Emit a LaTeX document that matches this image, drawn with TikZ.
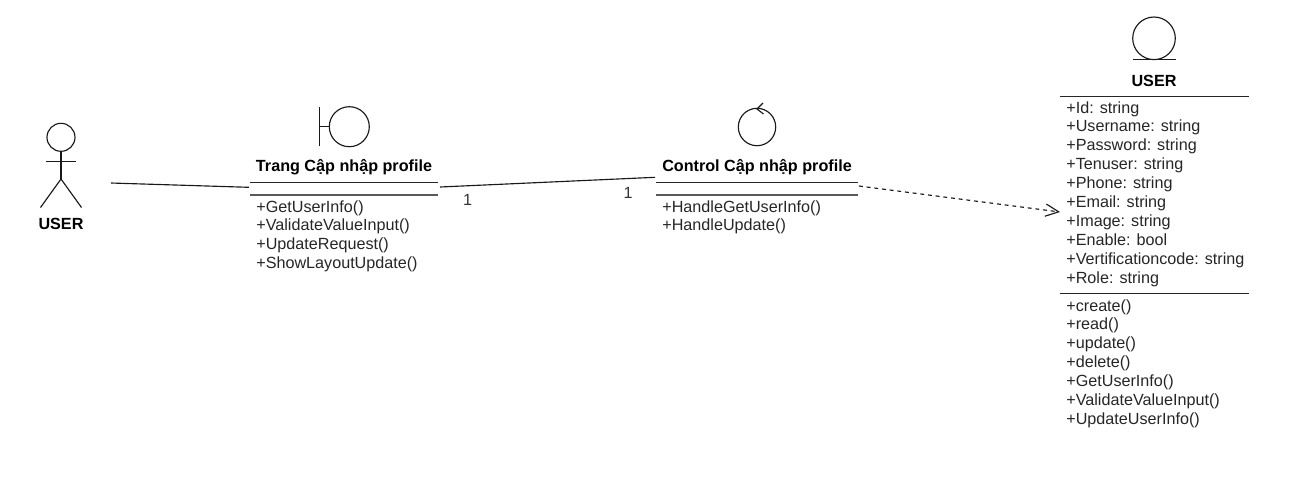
\documentclass[tikz,border=0pt]{standalone}
\usepackage{fontspec}
\setmainfont{Liberation Sans}
\usetikzlibrary{arrows.meta}
\tikzset{
    umlline/.style={draw=black!90, line width=0.65pt},
    rule/.style={draw=black!85, line width=0.65pt},
    softrule/.style={draw=black!65, line width=0.9pt},
    title/.style={font=\fontsize{9.2}{10.75}\selectfont\bfseries, inner sep=0pt},
    members/.style={font=\fontsize{9.2}{10.75}\selectfont, anchor=north west, align=left, inner sep=0pt, text=black!85},
    mult/.style={font=\fontsize{9.2}{10.75}\selectfont, inner sep=0pt, text=black!80},
}
\begin{document}
\begin{tikzpicture}[x=0.02cm, y=-0.02cm]
    \useasboundingbox (0, 0) rectangle (1297, 485);

    % Actor
    \draw[umlline] (61, 137.3) circle (14);
    \draw[umlline] (61, 151.3) -- (61, 179);
    \draw[umlline] (46, 161.7) -- (76, 161.7);
    \draw[umlline] (40.5, 207.5) -- (61, 179) -- (81.5, 207.5);
    \node[title] (actorname) at (61, 223.5) {USER};

    % Boundary
    \draw[umlline] (319.7, 107) -- (319.7, 146);
    \draw[umlline] (319.7, 126.7) -- (329.3, 126.7);
    \draw[umlline] (349.3, 126.7) circle (20);
    \node[title] (pagename) at (344, 167.5) {Trang Cập nhập profile};
    \draw[rule] (250, 182.5) -- (438, 182.5);
    \draw[softrule] (250, 195) -- (438, 195);
    \node[members] (pagemembers) at (256, 200) {+GetUserInfo()\\+ValidateValueInput()\\+UpdateRequest()\\+ShowLayoutUpdate()};

    % Control
    \draw[umlline] (757, 127) circle (18.7);
    \draw[umlline] (763, 103) -- (757, 109) -- (763.5, 114);
    \node[title] (ctrlname) at (757, 167.5) {Control Cập nhập profile};
    \draw[rule] (656, 182.5) -- (858, 182.5);
    \draw[softrule] (656, 195) -- (858, 195);
    \node[members] (ctrlmembers) at (662, 200) {+HandleGetUserInfo()\\+HandleUpdate()};

    % Entity
    \draw[umlline] (1154, 38.3) circle (21.3);
    \draw[umlline] (1133, 59.7) -- (1176, 59.7);
    \node[title] (entityname) at (1154, 80.5) {USER};
    \draw[rule] (1060, 96.4) -- (1249, 96.4);
    \draw[rule] (1060, 293.5) -- (1249, 293.5);
    \node[members] (entityattrs) at (1066, 101) {+Id: string\\+Username: string\\+Password: string\\+Tenuser: string\\+Phone: string\\+Email: string\\+Image: string\\+Enable: bool\\+Vertificationcode: string\\+Role: string};
    \node[members] (entityops) at (1066, 299) {+create()\\+read()\\+update()\\+delete()\\+GetUserInfo()\\+ValidateValueInput()\\+UpdateUserInfo()};

    % Connector ends
    \coordinate (actorout) at (111, 183);
    \coordinate (pagein) at (249, 187.3);
    \coordinate (pageout) at (440, 187);
    \coordinate (ctrlin) at (655, 177.3);
    \coordinate (ctrlout) at (859, 186);
    \coordinate (entityin) at (1060, 212);

    % Connectors
    \draw[umlline] (actorout) -- (pagein);
    \draw[umlline] (pageout) -- (ctrlin);
    \draw[umlline, dash pattern=on 2.2pt off 2.2pt, -{Straight Barb[length=7.5pt, width=7pt]}] (ctrlout) -- (entityin);

    % Multiplicities
    \node[mult] (pagemult) at (467.5, 200) {1};
    \node[mult] (ctrlmult) at (628, 192.5) {1};
\end{tikzpicture}
\end{document}
